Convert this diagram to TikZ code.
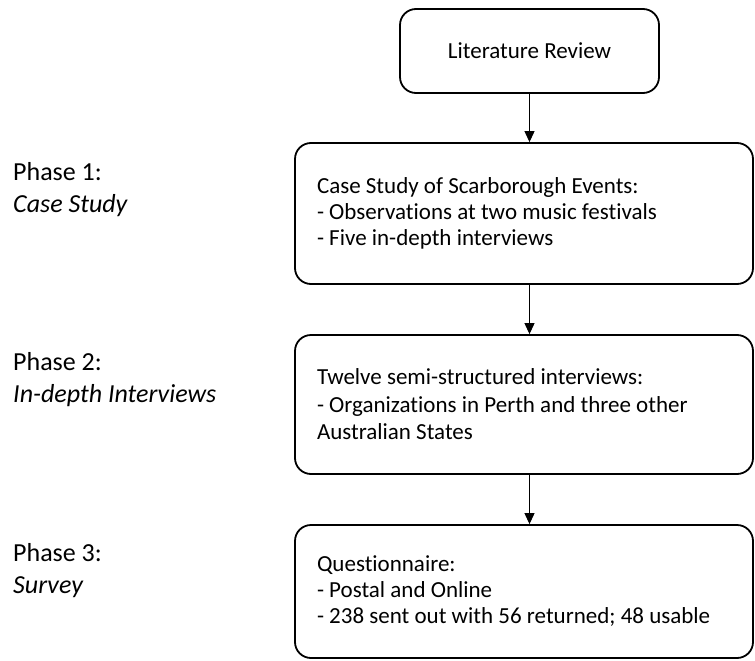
\documentclass[tikz,border=0pt]{standalone}
\usepackage{fontspec}
\setmainfont{Carlito}[Ligatures=NoCommon]
\usetikzlibrary{arrows.meta}
\begin{document}
\begin{tikzpicture}[x=1pt,y=-1pt,
  box/.style={draw=black,line width=1.8pt,rounded corners=16pt,inner sep=0pt},
  phase/.style={font=\fontsize{26}{32}\selectfont,align=left,anchor=base west,inner sep=0pt},
  conn/.style={line width=1pt,-{Triangle[length=11pt,width=10pt]}}]
\useasboundingbox (0,0) rectangle (755,661);
\node[box,minimum width=259pt,minimum height=84pt,font=\fontsize{23}{26}\selectfont] (b1) at (529.5,51) {Literature Review};
\node[box,minimum width=458pt,minimum height=141pt] (b2) at (524,213.5)
  {\parbox{414pt}{\fontsize{23}{26}\selectfont Case Study of Scarborough Events:\\- Observations at two music festivals\\- Five in-depth interviews}};
\node[box,minimum width=458pt,minimum height=139pt] (b3) at (524,404.5)
  {\parbox{414pt}{\fontsize{23}{27.5}\selectfont Twelve semi-structured interviews:\\- Organizations in Perth and three other\\Australian States}};
\node[box,minimum width=458pt,minimum height=133pt] (b4) at (524,591.5)
  {\parbox{414pt}{\fontsize{23}{26}\selectfont Questionnaire:\\- Postal and Online\\- 238 sent out with 56 returned; 48 usable}};
\node[phase] (p1) at (13,212) {Phase 1:\\\textit{Case Study}};
\node[phase] (p2) at (13,402) {Phase 2:\\\textit{In-depth Interviews}};
\node[phase] (p3) at (13,593) {Phase 3:\\\textit{Survey}};
\draw[conn] (b1.south) -- (b1.south |- b2.north);
\draw[conn] (b2.south -| b1.south) -- (b3.north -| b1.south);
\draw[conn] (b3.south -| b1.south) -- (b4.north -| b1.south);
\end{tikzpicture}
\end{document}
